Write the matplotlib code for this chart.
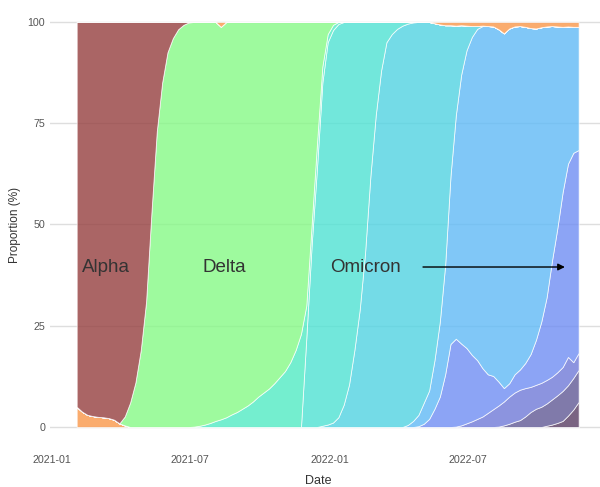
import numpy as np
import pandas as pd
import matplotlib
matplotlib.use("Agg")
import matplotlib.pyplot as plt
import matplotlib.dates as mdates

# weekly proportions (%) of each lineage
weeks = pd.date_range("2021-02-03", periods=95, freq="7D")

# each series: (first week index, values)
other_early = (0, [5.0, 3.8, 3.0, 2.7, 2.5, 2.4, 2.2, 1.8, 0.9, 0.4])
alpha = (0, [95.0, 96.2, 97.0, 97.3, 97.5, 97.6, 97.8, 98.2, 99.1, 97.4,
             94.0, 89.0, 81.0, 69.0, 47.0, 27.0, 15.0, 7.5, 4.0, 1.8, 0.7, 0.1])
delta = (9, [2.2, 6.0, 11.0, 19.0, 31.0, 53.0, 73.0, 85.0, 92.5, 96.0, 98.2, 99.3, 99.9,
             99.9, 99.7, 99.4, 99.0, 98.5, 96.9, 97.6, 96.9, 96.3, 95.5, 94.7, 93.7,
             92.5, 91.5, 90.5, 89.2, 87.7, 86.2, 84.0, 81.0, 77.0,
             70.0, 50.0, 30.0, 11.0, 3.0, 0.7])
delta_ay = (22, [0.1, 0.3, 0.6, 1.0, 1.5, 1.9, 2.4, 3.1, 3.7, 4.5, 5.3, 6.3, 7.5, 8.5,
                 9.5, 10.8, 12.3, 13.8, 16.0, 19.0, 23.0, 8.0, 5.0, 6.0, 4.0, 2.0, 1.3, 0.5])
ba1 = (43, [22.0, 45.0, 64.0, 84.7, 94.4, 96.9, 97.1, 94.5, 89.5, 81.0, 71.0, 57.0,
            38.0, 23.0, 12.0, 5.0, 3.0, 1.7, 0.9, 0.4, 0.1])
ba2 = (46, [0.3, 0.6, 1.1, 2.4, 5.5, 10.5, 19.0, 29.0, 43.0, 62.0, 77.0, 88.0, 95.0,
            97.0, 98.3, 99.1, 99.1, 98.4, 97.0, 94.0, 91.0, 83.2, 73.4, 59.2, 37.2,
            22.1, 12.2, 6.1, 2.7, 0.7, 0.1])
ba5 = (62, [0.5, 1.5, 2.8, 5.2, 7.0, 12.0, 18.5, 27.0, 41.5, 55.2, 66.4, 73.5, 78.5,
            81.8, 84.5, 86.0, 86.3, 87.0, 87.6, 87.6, 85.9, 84.8, 83.0, 80.5, 76.9,
            72.7, 66.9, 58.0, 49.9, 40.8, 33.9, 31.1, 30.4])
ba4 = (64, [0.2, 0.8, 2.0, 4.5, 7.5, 13.0, 20.5, 21.7, 20.2, 18.6, 16.4, 14.5, 11.9,
            9.5, 8.2, 5.9, 3.3, 3.3, 4.5, 5.0, 6.2, 8.1, 11.1, 15.1, 20.4, 28.6, 35.5,
            43.2, 47.7, 51.7, 50.1])
sub_a = (71, [0.1, 0.4, 0.9, 1.4, 2.0, 2.6, 3.5, 4.4, 5.2, 5.9, 6.7, 7.2, 7.5, 7.0,
              6.2, 5.9, 5.9, 5.8, 5.6, 5.7, 5.9, 7.0, 3.9, 4.2])
sub_b = (79, [0.1, 0.4, 0.8, 1.3, 1.7, 2.6, 3.7, 4.5, 5.0, 5.5, 6.2, 6.8, 7.4, 7.5, 7.8, 7.9])
sub_c = (88, [0.3, 0.6, 1.0, 1.5, 2.8, 4.3, 6.2])
other_late = (27, [1.2] + [0.0] * 39 +
              [0.3, 0.6, 0.8, 0.8, 0.9, 0.8, 0.9, 1.0, 1.0, 0.9, 1.0, 1.1, 1.8, 2.8,
               1.6, 1.1, 1.0, 1.2, 1.5, 1.6, 1.3, 1.1, 1.0, 1.1, 1.2, 1.1, 1.2, 1.2])


def place(series):
    start, values = series
    arr = np.zeros(len(weeks))
    arr[start:start + len(values)] = values
    return arr


# bottom to top
order = [other_early, sub_c, sub_b, sub_a, ba4, ba5, ba2, ba1, delta_ay, delta, alpha, other_late]
colors = ["#F9974A", "#593D63", "#605995", "#6F79D8", "#6F8DF3", "#60BAF6",
          "#51D3E2", "#4FE2D3", "#51EAC4", "#86F986", "#953F3F", "#F9974A"]

plt.rcParams["font.family"] = ["Liberation Sans", "DejaVu Sans"]

fig = plt.figure(figsize=(6, 4.87), dpi=100)
ax = fig.add_axes([0.0833, 0.1066, 0.9167, 0.8649])

ax.stackplot(weeks, *[place(s) for s in order], colors=colors, alpha=0.8,
             edgecolor="white", linewidth=0.6, zorder=2)

ax.set_ylim(-2, 102)
ax.set_xlim(pd.Timestamp("2020-12-30"), pd.Timestamp("2022-12-21"))
ax.set_yticks([0, 25, 50, 75, 100])
ax.set_xticks(pd.to_datetime(["2021-01-01", "2021-07-01", "2022-01-01", "2022-07-01"]))
ax.xaxis.set_major_formatter(mdates.DateFormatter("%Y-%m"))
ax.grid(axis="y", color="#DEDEDE", linewidth=1.0, zorder=0)
ax.grid(axis="x", visible=False)
ax.set_axisbelow(True)
for sp in ax.spines.values():
    sp.set_visible(False)
ax.tick_params(axis="both", length=0, labelsize=7.7, colors="#555555")
ax.tick_params(axis="x", pad=14)
ax.tick_params(axis="y", pad=3.5)

ax.set_xlabel("Date", fontsize=9, color="#333333")
ax.xaxis.set_label_coords((318 - 50) / 550, -0.095)
ax.set_ylabel("Proportion (%)", fontsize=8.5, color="#333333")
ax.yaxis.set_label_coords(-0.053, 0.5)

# variant labels
lab_kw = dict(fontsize=13.5, color="#333333", ha="center", va="center", zorder=5)
ax.text(mdates.date2num(pd.Timestamp("2021-03-14")), 39.5, "Alpha", **lab_kw)
ax.text(mdates.date2num(pd.Timestamp("2021-08-16")), 39.5, "Delta", **lab_kw)
ax.text(mdates.date2num(pd.Timestamp("2022-02-16")), 39.5, "Omicron", **lab_kw)
ax.annotate("", xy=(mdates.date2num(pd.Timestamp("2022-11-05")), 39.5),
            xytext=(mdates.date2num(pd.Timestamp("2022-05-03")), 39.5),
            arrowprops=dict(arrowstyle="-|>", color="black", lw=1.0,
                            mutation_scale=10, shrinkA=0, shrinkB=0), zorder=5)

fig.savefig("out.png", dpi=100, facecolor="white")
